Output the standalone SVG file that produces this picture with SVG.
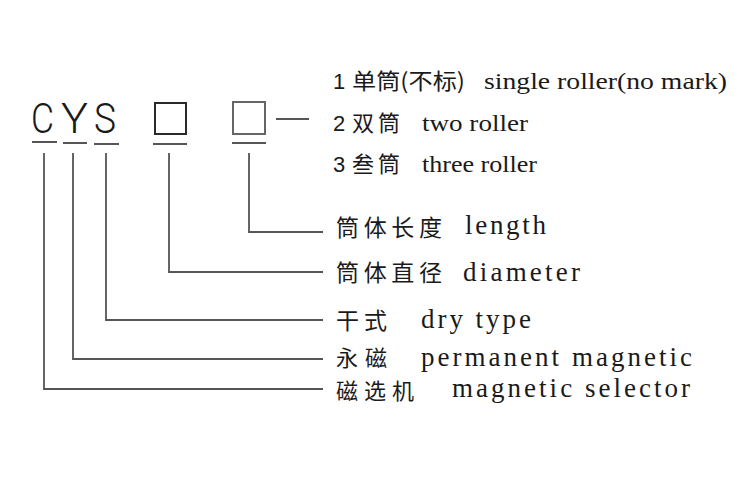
<svg xmlns="http://www.w3.org/2000/svg" width="750" height="488" viewBox="0 0 750 488">
<style>
.bg{fill:#fff}
.code{font-family:Roboto,"Liberation Sans",Arial,sans-serif;font-weight:300;font-size:42px;fill:#1a1a1a}
.box{fill:none;stroke:#2a2a2a;stroke-width:2}
.ul{stroke:#555;stroke-width:2;fill:none}
.ln{stroke:#555;stroke-width:1.8;fill:none}
.num{font-family:"Liberation Sans",Arial,sans-serif;font-size:22px;fill:#1a1a1a}
.cn{font-family:"Noto Sans CJK SC","Noto Sans",sans-serif;font-size:22px;fill:#1a1a1a}
.cn2{font-family:"Noto Sans CJK SC","Noto Sans",sans-serif;font-size:23px;fill:#1a1a1a}
.en{font-family:"Liberation Serif","Times New Roman",serif;font-size:24px;fill:#1a1a1a}
.en2{font-family:"Liberation Serif","Times New Roman",serif;font-size:27px;fill:#1a1a1a}
</style>
<rect class="bg" x="0" y="0" width="750" height="488"/>
<g id="code">
<text class="code" x="31" y="133" textLength="23" lengthAdjust="spacingAndGlyphs">C</text>
<text class="code" x="61" y="133" textLength="27" lengthAdjust="spacingAndGlyphs">Y</text>
<text class="code" x="94" y="133" textLength="22" lengthAdjust="spacingAndGlyphs">S</text>
<rect class="box" x="155" y="103" width="31" height="31"/>
<rect class="box" x="233" y="102" width="32" height="32" style="stroke:#666"/>
<line class="ul" x1="32" y1="142" x2="57" y2="142"/>
<line class="ul" x1="63" y1="143" x2="87" y2="143"/>
<line class="ul" x1="94" y1="144" x2="119" y2="144"/>
<line class="ul" x1="153" y1="144" x2="187" y2="144"/>
<line class="ul" x1="232" y1="143" x2="266" y2="143"/>
</g>
<g id="connectors">
<line class="ln" x1="276" y1="119" x2="309" y2="119"/>
<polyline class="ln" points="249,153 249,232 323,232"/>
<polyline class="ln" points="169,153 169,272 323,272"/>
<polyline class="ln" points="106,153 106,320 323,320"/>
<polyline class="ln" points="73,153 73,359 323,359"/>
<polyline class="ln" points="44,153 44,389 323,389"/>
</g>
<g id="roller-options">
<text class="num" x="333" y="89">1</text>
<text class="cn" x="352" y="89" textLength="113" lengthAdjust="spacingAndGlyphs">单筒(不标)</text>
<text class="en" x="484" y="89" textLength="243" lengthAdjust="spacingAndGlyphs">single roller(no mark)</text>
<text class="num" x="333" y="131">2</text>
<text class="cn" x="352" y="131" textLength="48">双筒</text>
<text class="en" x="422" y="131" textLength="106" lengthAdjust="spacingAndGlyphs">two roller</text>
<text class="num" x="333" y="172">3</text>
<text class="cn" x="352" y="172" textLength="48">叁筒</text>
<text class="en" x="422" y="172" textLength="115" lengthAdjust="spacingAndGlyphs">three roller</text>
</g>
<g id="length">
<text class="cn2" x="336" y="236" textLength="106">筒体长度</text>
<text class="en2" x="465" y="234" textLength="81">length</text>
</g>
<g id="diameter">
<text class="cn2" x="336" y="281" textLength="106">筒体直径</text>
<text class="en2" x="463" y="281" textLength="117">diameter</text>
</g>
<g id="dry-type">
<text class="cn2" x="336" y="329" textLength="51">干式</text>
<text class="en2" x="421" y="328" textLength="110">dry type</text>
</g>
<g id="permanent-magnetic">
<text class="cn" x="336" y="366" textLength="51">永磁</text>
<text class="en2" x="421" y="366" textLength="271">permanent magnetic</text>
</g>
<g id="magnetic-selector">
<text class="cn" x="336" y="399" textLength="78">磁选机</text>
<text class="en2" x="452" y="397" textLength="238">magnetic selector</text>
</g>
</svg>
